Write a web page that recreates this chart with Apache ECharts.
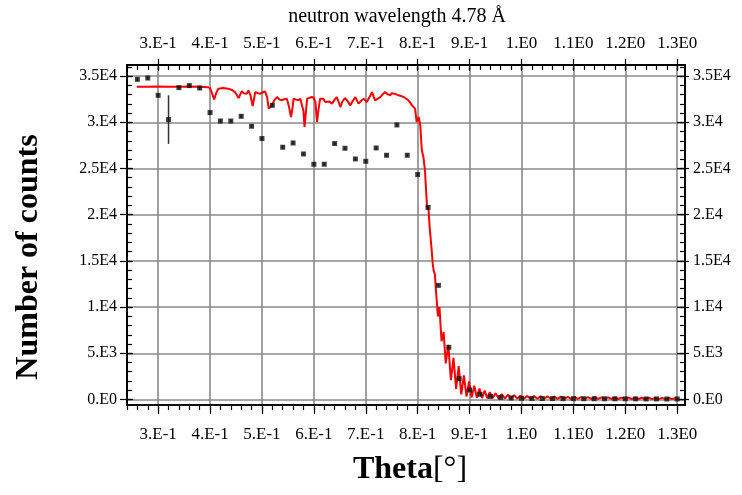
<!DOCTYPE html>
<html>
<head>
<meta charset="utf-8">
<script src="https://cdn.jsdelivr.net/npm/echarts@6/dist/echarts.min.js"></script>
<style>
  html, body { margin: 0; padding: 0; background: #fff; }
  #chart { width: 742px; height: 495px; }
</style>
</head>
<body>
<div id="chart"></div>
<script>
// Measured neutron counts versus angle, with statistical errors
const measTheta = [
  0.26, 0.28, 0.30, 0.32, 0.34, 0.36, 0.38, 0.40, 0.42, 0.44,
  0.46, 0.48, 0.50, 0.52, 0.54, 0.56, 0.58, 0.60, 0.62, 0.64,
  0.66, 0.68, 0.70, 0.72, 0.74, 0.76, 0.78, 0.80, 0.82, 0.84,
  0.86, 0.88, 0.90, 0.92, 0.94, 0.96, 0.98, 1.00, 1.02, 1.04,
  1.06, 1.08, 1.10, 1.12, 1.14, 1.16, 1.18, 1.20, 1.22, 1.24,
  1.26, 1.28, 1.30
];
const measCounts = [
  34650, 34790, 32920, 30290, 33750, 33970, 33710, 31050, 30140, 30140,
  30650, 29570, 28240, 31840, 27300, 27760, 26570, 25460, 25460, 27700,
  27190, 26030, 25780, 27220, 26430, 29710, 26430, 24340, 20780, 12350,
  5640, 2250, 1030, 560, 330, 220, 160, 130, 110, 100,
  95, 90, 85, 80, 80, 75, 70, 70, 65, 60,
  60, 55, 55
];
const measError = [
  190, 190, 180, 2630, 180, 180, 180, 180, 170, 170,
  180, 170, 170, 180, 170, 170, 160, 160, 160, 170,
  170, 160, 160, 170, 160, 170, 160, 160, 140, 110,
  75, 50, 30, 25, 20, 15, 13, 12, 10, 10,
  10, 10, 9, 9, 9, 9, 8, 8, 8, 8,
  8, 7, 7
];

// Simulated reflectivity curve
const simTheta = [
  0.259, 0.280, 0.300, 0.320, 0.340, 0.360, 0.380, 0.396, 0.400, 0.404,
  0.408, 0.412, 0.416, 0.425, 0.435, 0.442, 0.448, 0.452, 0.455, 0.458,
  0.461, 0.465, 0.468, 0.471, 0.474, 0.478, 0.482, 0.485, 0.487, 0.492,
  0.497, 0.502, 0.506, 0.510, 0.513, 0.516, 0.519, 0.524, 0.529, 0.534,
  0.538, 0.543, 0.548, 0.552, 0.556, 0.559, 0.561, 0.566, 0.570, 0.574,
  0.577, 0.580, 0.582, 0.585, 0.587, 0.592, 0.596, 0.600, 0.603, 0.606,
  0.609, 0.612, 0.615, 0.618, 0.622, 0.625, 0.630, 0.635, 0.640, 0.644,
  0.648, 0.651, 0.655, 0.660, 0.665, 0.670, 0.675, 0.680, 0.686, 0.691,
  0.696, 0.702, 0.707, 0.712, 0.715, 0.718, 0.723, 0.728, 0.733, 0.737,
  0.742, 0.747, 0.750, 0.753, 0.758, 0.763, 0.768, 0.773, 0.778, 0.782,
  0.786, 0.789, 0.795, 0.798, 0.802, 0.805, 0.808, 0.811, 0.814, 0.818,
  0.821, 0.823, 0.827, 0.829, 0.831, 0.833, 0.836, 0.839, 0.842, 0.846,
  0.850, 0.854, 0.859, 0.864, 0.869, 0.874, 0.879, 0.884, 0.889, 0.894,
  0.899, 0.904, 0.909, 0.914, 0.919, 0.924, 0.929, 0.934, 0.939, 0.944,
  0.950, 0.956, 0.962, 0.968, 0.974, 0.980, 0.986, 0.992, 0.998, 1.0045,
  1.011, 1.0175, 1.024, 1.0305, 1.037, 1.0435, 1.050, 1.0565, 1.063, 1.0695,
  1.076, 1.0825, 1.089, 1.0955, 1.102, 1.1085, 1.115, 1.1215, 1.128, 1.1345,
  1.141, 1.1475, 1.154, 1.1605, 1.167, 1.1735, 1.180, 1.1865, 1.193, 1.1995,
  1.206, 1.2125, 1.219, 1.2255, 1.232, 1.2385, 1.245, 1.2515, 1.258, 1.2645,
  1.271, 1.2775, 1.284, 1.2905, 1.297, 1.302
];
const simCounts = [
  33850, 33850, 33860, 33840, 33850, 33870, 33850, 33800, 33700, 33100,
  32480, 33200, 33640, 33700, 33640, 33500, 33270, 32900, 32620, 33000,
  33350, 33150, 33210, 33100, 33460, 32900, 31760, 32600, 33270, 33150,
  33100, 33250, 33350, 32700, 31480, 31650, 31830, 32400, 32730, 32450,
  32380, 32500, 32560, 31700, 30570, 31600, 32560, 32450, 32380, 32550,
  32730, 31200, 29490, 31300, 32560, 32650, 32730, 32650, 32200, 30030,
  31400, 32560, 32400, 32560, 32200, 32020, 32250, 32020, 32450, 32730,
  32150, 31650, 32250, 32620, 32300, 31830, 32300, 32730, 32020, 32300,
  32560, 32190, 32700, 33270, 32800, 32380, 32550, 32730, 33050, 33270,
  33050, 32920, 33150, 33270, 33050, 32920, 32850, 32730, 32550, 32380,
  32100, 31830, 31480, 30030, 30570, 29670, 26970, 26250, 24810, 20840,
  20490, 18680, 16160, 14700, 13900, 13600, 11200, 9000, 10000, 6300,
  7300, 3900, 5900, 2100, 4500, 1150, 3600, 550, 2600, 320,
  1950, 230, 1500, 180, 1180, 150, 950, 130, 800, 120,
  670, 110, 590, 100, 520, 95, 460, 90, 410, 85,
  385, 80, 365, 80, 350, 75, 330, 75, 315, 70,
  300, 70, 285, 65, 270, 65, 260, 60, 250, 60,
  240, 55, 230, 55, 220, 50, 215, 50, 205, 50,
  200, 45, 195, 45, 185, 45, 180, 40, 175, 40,
  170, 40, 165, 40, 160, 60
];

// Axis ticks and their labels
const xMajor = [0.3, 0.4, 0.5, 0.6, 0.7, 0.8, 0.9, 1.0, 1.1, 1.2, 1.3];
const xLabels = ['3.E-1', '4.E-1', '5.E-1', '6.E-1', '7.E-1', '8.E-1', '9.E-1', '1.E0', '1.1E0', '1.2E0', '1.3E0'];
const yMajor = [0, 5000, 10000, 15000, 20000, 25000, 30000, 35000];
const yLabels = ['0.E0', '5.E3', '1.E4', '1.5E4', '2.E4', '2.5E4', '3.E4', '3.5E4'];

const X_MIN = 0.24, X_MAX = 1.315;
const Y_MIN = -600, Y_MAX = 36200;

const xMinor = [];
for (let i = 12; i <= 65; i++) xMinor.push(+(i * 0.02).toFixed(2));
const yMinor = [];
for (let v = 0; v <= 36000; v += 1000) yMinor.push(v);

const SERIF = "'Liberation Serif', 'Times New Roman', serif";

function labelFor(values, labels, v) {
  for (let i = 0; i < values.length; i++) {
    if (Math.abs(values[i] - v) < 1e-6) return labels[i];
  }
  return '';
}

function axisBase(extra) {
  return Object.assign({
    type: 'value',
    gridIndex: 0,
    axisLine: { show: true, onZero: false, lineStyle: { color: '#000', width: 1.5 } },
    axisTick: { show: false },
    axisLabel: { show: false },
    splitLine: { show: false },
    minorTick: { show: false },
    minorSplitLine: { show: false }
  }, extra);
}

function ticks(values, length, inside) {
  return { show: true, customValues: values, length: length, inside: inside,
           lineStyle: { color: '#000', width: 1.2 } };
}

const gridLine = { show: true, lineStyle: { color: '#8a8a8a', width: 1.6 } };

function xAxisDef(position, tick, label, split) {
  return axisBase({
    position: position, min: X_MIN, max: X_MAX,
    axisTick: tick,
    axisLabel: label || { show: false },
    splitLine: split || { show: false }
  });
}
function yAxisDef(position, tick, label, split) {
  return axisBase({
    position: position, min: Y_MIN, max: Y_MAX,
    axisTick: tick,
    axisLabel: label || { show: false },
    splitLine: split || { show: false }
  });
}

const xLabelStyle = (margin) => ({
  show: true, customValues: xMajor, margin: margin,
  fontFamily: SERIF, fontSize: 17, color: '#000',
  formatter: v => labelFor(xMajor, xLabels, v)
});
const yLabelStyle = (margin) => ({
  show: true, customValues: yMajor, margin: margin,
  fontFamily: SERIF, fontSize: 16, color: '#000',
  formatter: v => labelFor(yMajor, yLabels, v)
});

const option = {
  animation: false,
  backgroundColor: '#ffffff',
  grid: { left: 127, right: 57, top: 65, bottom: 90, containLabel: false },
  xAxis: [
    xAxisDef('bottom', ticks(xMajor, 9, false), xLabelStyle(21), gridLine),
    xAxisDef('bottom', ticks(xMinor, 5, false)),
    xAxisDef('top', ticks(xMajor, 6, false), xLabelStyle(13)),
    xAxisDef('top', ticks(xMajor, 6, true)),
    xAxisDef('top', ticks(xMinor, 5, true))
  ],
  yAxis: [
    yAxisDef('left', ticks(yMajor, 7, false), yLabelStyle(10), gridLine),
    yAxisDef('left', ticks(yMajor, 6, true)),
    yAxisDef('left', ticks(yMinor, 5, true)),
    yAxisDef('right', ticks(yMajor, 4, false), yLabelStyle(8)),
    yAxisDef('right', ticks(yMajor, 8, true)),
    yAxisDef('right', ticks(yMinor, 5, true))
  ],
  graphic: [
    {
      type: 'text', x: 397, y: 17,
      style: {
        text: 'neutron wavelength 4.78 Å',
        font: "20px 'Liberation Serif', serif", fill: '#000',
        align: 'center', verticalAlign: 'middle',
        textAlign: 'center', textVerticalAlign: 'middle'
      }
    },
    {
      type: 'text', x: 410, y: 470,
      style: {
        text: '{b|Theta}{n|[°]}',
        rich: {
          b: { fontFamily: SERIF, fontSize: 32, fontWeight: 'bold', fill: '#000' },
          n: { fontFamily: SERIF, fontSize: 32, fontWeight: 'normal', fill: '#000' }
        },
        font: "bold 32px 'Liberation Serif', serif",
        align: 'center', verticalAlign: 'middle',
        textAlign: 'center', textVerticalAlign: 'middle'
      }
    },
    {
      type: 'text', x: 29, y: 257, rotation: Math.PI / 2,
      style: {
        text: 'Number of counts',
        font: "bold 32px 'Liberation Serif', serif", fill: '#000',
        align: 'center', verticalAlign: 'middle',
        textAlign: 'center', textVerticalAlign: 'middle'
      }
    }
  ],
  series: [
    {
      name: 'simulation',
      type: 'line',
      xAxisIndex: 0, yAxisIndex: 0,
      data: simTheta.map((t, i) => [t, simCounts[i]]),
      showSymbol: false,
      symbol: 'none',
      sampling: false,
      lineStyle: { color: '#ff0000', width: 2 },
      z: 2
    },
    {
      name: 'errors',
      type: 'custom',
      xAxisIndex: 0, yAxisIndex: 0,
      data: measTheta.map((t, i) => [t, measCounts[i], measError[i]]),
      encode: { x: 0, y: 1 },
      renderItem: function (params, api) {
        const x = api.value(0), y = api.value(1), e = api.value(2);
        const p1 = api.coord([x, y - e]);
        const p2 = api.coord([x, y + e]);
        return {
          type: 'line',
          shape: { x1: p1[0], y1: p1[1], x2: p2[0], y2: p2[1] },
          style: { stroke: '#333', lineWidth: 1.5 }
        };
      },
      z: 3
    },
    {
      name: 'measured',
      type: 'scatter',
      xAxisIndex: 0, yAxisIndex: 0,
      data: measTheta.map((t, i) => [t, measCounts[i]]),
      symbol: 'rect',
      symbolSize: 5,
      itemStyle: { color: '#111' },
      z: 4
    }
  ]
};

const chart = echarts.init(document.getElementById('chart'), null, { renderer: 'canvas' });
chart.setOption(option);
</script>
</body>
</html>
